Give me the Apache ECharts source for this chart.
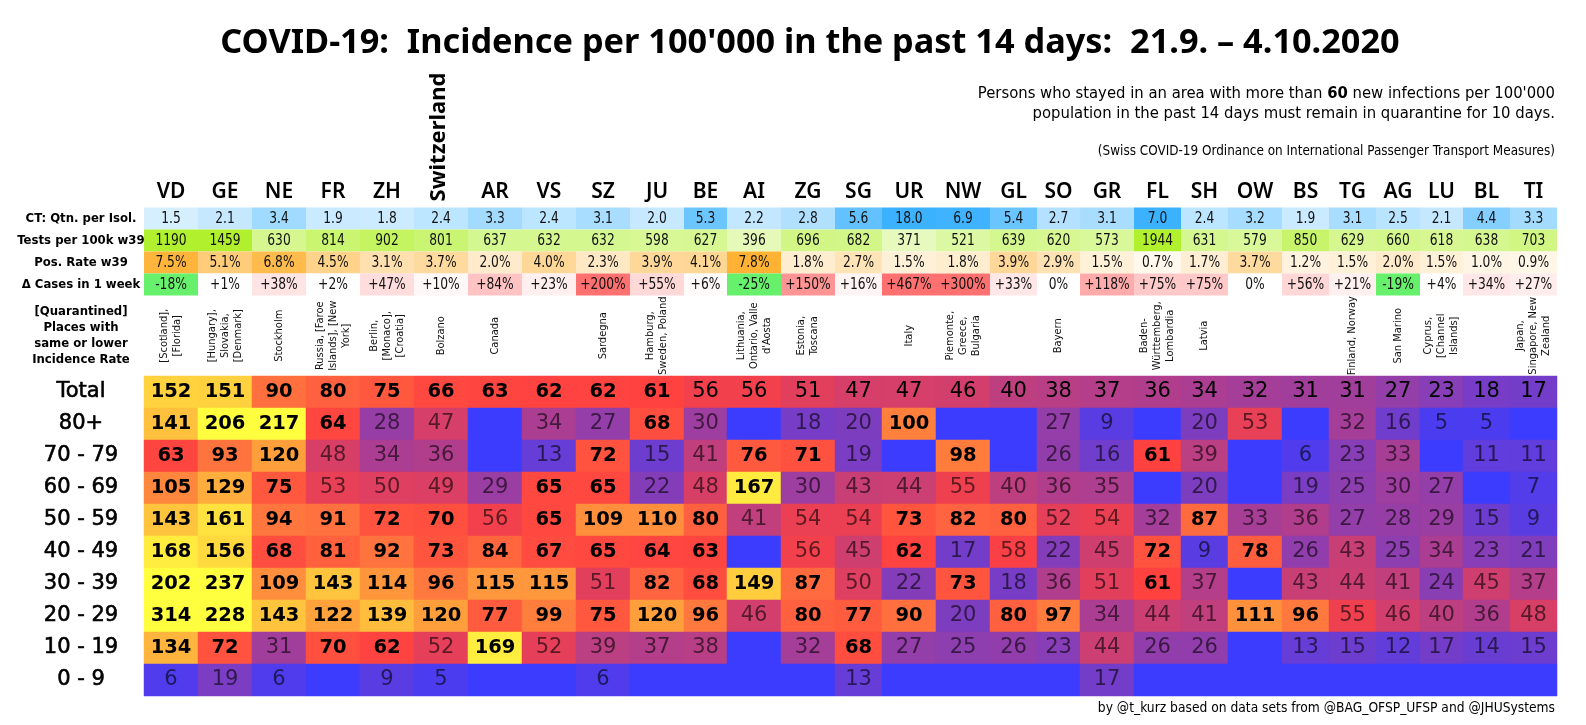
<!DOCTYPE html>
<html>
<head>
<meta charset="utf-8">
<title>COVID-19 Incidence</title>
<script src="https://cdn.jsdelivr.net/npm/echarts@6/dist/echarts.min.js"></script>
<style>
  html, body { margin: 0; background: #fff; }
  #container { width: 1586px; height: 725px; }
</style>
</head>
<body>
<div id="container"></div>
<script>
var cantons = ['VD','GE','NE','FR','ZH','Switzerland','AR','VS','SZ','JU','BE','AI','ZG','SG','UR','NW','GL','SO','GR','FL','SH','OW','BS','TG','AG','LU','BL','TI'];

var ctRatio = [1.5,2.1,3.4,1.9,1.8,2.4,3.3,2.4,3.1,2.0,5.3,2.2,2.8,5.6,18.0,6.9,5.4,2.7,3.1,7.0,2.4,3.2,1.9,3.1,2.5,2.1,4.4,3.3];
var tests = [1190,1459,630,814,902,801,637,632,632,598,627,396,696,682,371,521,639,620,573,1944,631,579,850,629,660,618,638,703];
var posRate = [7.5,5.1,6.8,4.5,3.1,3.7,2.0,4.0,2.3,3.9,4.1,7.8,1.8,2.7,1.5,1.8,3.9,2.9,1.5,0.7,1.7,3.7,1.2,1.5,2.0,1.5,1.0,0.9];
var deltaCases = [-18,1,38,2,47,10,84,23,200,55,6,-25,150,16,467,300,33,0,118,75,75,0,56,21,-19,4,34,27];

var places = [
    '[Scotland],\n[Florida]', '[Hungary],\nSlovakia,\n[Denmark]', 'Stockholm', 'Russia, [Faroe\nIslands], [New\nYork]',
    'Berlin,\n[Monaco],\n[Croatia]', 'Bolzano', 'Canada', '', 'Sardegna', 'Hamburg,\nSweden, Poland', '',
    'Lithuania,\nOntario, Valle\nd\'Aosta', 'Estonia,\nToscana', '', 'Italy', 'Piemonte,\nGreece,\nBulgaria', '',
    'Bayern', '', 'Baden-\nW\u00fcrttemberg,\nLombardia', 'Latvia', '', '', 'Finland, Norway', 'San Marino',
    'Cyprus,\n[Channel\nIslands]', '', 'Japan,\nSingapore, New\nZealand'
];

var ageLabels = ['Total','80+','70 - 79','60 - 69','50 - 59','40 - 49','30 - 39','20 - 29','10 - 19','0 - 9'];
var total = [152,151,90,80,75,66,63,62,62,61,56,56,51,47,47,46,40,38,37,36,34,32,31,31,27,23,18,17];
var age80 = [141,206,217,64,28,47,null,34,27,68,30,null,18,20,100,null,null,27,9,null,20,53,null,32,16,5,5,null];
var age70 = [63,93,120,48,34,36,null,13,72,15,41,76,71,19,null,98,null,26,16,61,39,null,6,23,33,null,11,11];
var age60 = [105,129,75,53,50,49,29,65,65,22,48,167,30,43,44,55,40,36,35,null,20,null,19,25,30,27,null,7];
var age50 = [143,161,94,91,72,70,56,65,109,110,80,41,54,54,73,82,80,52,54,32,87,33,36,27,28,29,15,9];
var age40 = [168,156,68,81,92,73,84,67,65,64,63,null,56,45,62,17,58,22,45,72,9,78,26,43,25,34,23,21];
var age30 = [202,237,109,143,114,96,115,115,51,82,68,149,87,50,22,73,18,36,51,61,37,null,43,44,41,24,45,37];
var age20 = [314,228,143,122,139,120,77,99,75,120,96,46,80,77,90,20,80,97,34,44,41,111,96,55,46,40,36,48];
var age10 = [134,72,31,70,62,52,169,52,39,37,38,null,32,68,27,25,26,23,44,26,26,null,13,15,12,17,14,15];
var age0 = [6,19,6,null,9,5,null,null,6,null,null,null,null,13,null,null,null,null,17,null,null,null,null,null,null,null,null,null];
var ageRows = [total,age80,age70,age60,age50,age40,age30,age20,age10,age0];

var metricLabels = ['CT: Qtn. per Isol.','Tests per 100k w39','Pos. Rate w39','\u0394 Cases in 1 week'];

// column widths come from the spreadsheet autofit, the x axis just adds them up
var colWidths = [54,54,54,54,54,54,54,54,54,54,43,54,54,47,54,54,47,43,54,47,47,54,47,47,44,43,47,47];
var edges = [0];
colWidths.forEach(function (w) { edges.push(edges[edges.length - 1] + w); });

var narrow = '"DejaVu Sans Condensed", sans-serif';
var wide = '"DejaVu Sans", sans-serif';
var lerp = echarts.color.lerp;

function fade(to, t) {
    return lerp(Math.max(0, Math.min(1, t)), ['#ffffff', to]);
}
function heatColor(v) {
    if (isNaN(v)) return '#3c3cff';
    return lerp(Math.min(v, 180) / 180, ['#3c3cff', '#ff4040', '#ff9f3c', '#ffff40']);
}
var metricColors = [
    function (v) { return fade('#3cb2ff', v / 7); },
    function (v) { return fade('#b0f02c', v / 1200); },
    function (v) { return fade('#ffb02e', v / 8); },
    function (v) { return v < 0 ? '#66f06c' : fade('#ff7070', v / 200); }
];
var metricText = [
    function (v) { return v.toFixed(1); },
    function (v) { return String(v); },
    function (v) { return v.toFixed(1) + '%'; },
    function (v) { return (v > 0 ? '+' : '') + v + '%'; }
];

function cellBox(api) {
    var col = api.value(0), row = api.value(1);
    var a = api.coord([edges[col], row]);
    var b = api.coord([edges[col + 1], row]);
    var h = api.size([0, 1])[1];
    return { x: a[0], y: a[1] - h / 2, width: b[0] - a[0], height: h };
}

function renderMetric(params, api) {
    var box = cellBox(api), row = api.value(1), v = api.value(2);
    return {
        type: 'group',
        children: [
            { type: 'rect', shape: box, style: { fill: metricColors[row](v) } },
            { type: 'text', x: box.x + box.width / 2, y: box.y + box.height / 2, scaleX: 0.88, style: {
                text: metricText[row](v), align: 'center', verticalAlign: 'middle',
                font: '15.5px ' + narrow, fill: '#111'
            } }
        ]
    };
}

function renderHeat(params, api) {
    var box = cellBox(api), v = api.value(2), row = api.value(1);
    var children = [{ type: 'rect', shape: box, style: { fill: heatColor(v), stroke: heatColor(v), lineWidth: 0.5 } }];
    if (!isNaN(v)) {
        var strong = v >= 60;
        // the Total row keeps regular weight below 60 but in full black
        var inTotal = row === 0;
        children.push({ type: 'text', style: {
            x: box.x + box.width / 2, y: box.y + box.height / 2,
            text: String(v), align: 'center', verticalAlign: 'middle',
            font: (strong ? 'bold 19.5px ' : '21px ') + wide,
            fill: strong || inTotal ? '#000' : 'rgba(0,0,0,0.6)'
        } });
    }
    return { type: 'group', children: children };
}

function renderHeader(params, api) {
    var col = api.value(0), name = cantons[col];
    var p = api.coord([(edges[col] + edges[col + 1]) / 2, 0]);
    if (name.length > 2) {
        return { type: 'text', x: p[0] - 2, y: p[1] - 54, rotation: Math.PI / 2, style: {
            text: name, align: 'center', verticalAlign: 'middle',
            font: 'bold 22px "Noto Sans", sans-serif', fill: '#000'
        } };
    }
    return { type: 'text', style: {
        x: p[0], y: p[1] + 1, text: name, align: 'center', verticalAlign: 'middle',
        font: '600 21px "Noto Sans", sans-serif', fill: '#000'
    } };
}

function renderPlace(params, api) {
    var col = api.value(0);
    var p = api.coord([(edges[col] + edges[col + 1]) / 2, 0]);
    return { type: 'text', x: p[0], y: p[1], rotation: Math.PI / 2, style: {
        text: places[col], align: 'center', verticalAlign: 'middle', lineHeight: 13,
        font: '11px ' + narrow, fill: '#111'
    } };
}

var metricData = [], heatData = [], colData = [];
cantons.forEach(function (c, i) {
    colData.push([i, 0]);
    [ctRatio, tests, posRate, deltaCases].forEach(function (arr, r) { metricData.push([i, r, arr[i]]); });
    ageRows.forEach(function (arr, r) { heatData.push([i, r, arr[i] === null ? '-' : arr[i]]); });
});

function xAxisAt(index) {
    return { gridIndex: index, type: 'value', min: 0, max: edges[edges.length - 1], show: false };
}
function yAxisAt(index, cats, font, size, weight, lineHeight, border) {
    return {
        gridIndex: index, type: 'category', inverse: true, data: cats,
        axisLine: { show: false }, axisTick: { show: false }, splitLine: { show: false },
        axisLabel: {
            show: cats[0] !== '', align: 'center', margin: 63, color: '#000', interval: 0,
            fontFamily: font, fontSize: size, fontWeight: weight, lineHeight: lineHeight,
            textBorderColor: '#000', textBorderWidth: border || 0
        }
    };
}

var left = 144, gridW = 1413;
var option = {
    animation: false,
    backgroundColor: '#fff',
    title: [
        { text: "COVID-19:  Incidence per 100'000 in the past 14 days:  21.9. \u2013 4.10.2020", left: 805, top: 21, textAlign: 'center',
          textStyle: { fontFamily: '"Noto Sans", sans-serif', fontSize: 34.3, fontWeight: 'bold', color: '#000' } },
        { text: "Persons who stayed in an area with more than {b|60} new infections per 100'000\npopulation in the past 14 days must remain in quarantine for 10 days.",
          left: 1550, top: 79, textAlign: 'right',
          textStyle: { fontFamily: narrow, fontSize: 16.5, lineHeight: 20, color: '#000', fontWeight: 'normal',
                       rich: { b: { fontFamily: narrow, fontSize: 16.5, fontWeight: 'bold', color: '#000' } } } },
        { text: '(Swiss COVID-19 Ordinance on International Passenger Transport Measures)', left: 1550, top: 140, textAlign: 'right',
          textStyle: { fontFamily: narrow, fontSize: 13.4, color: '#000', fontWeight: 'normal' } },
        { text: 'by @t_kurz based on data sets from @BAG_OFSP_UFSP and @JHUSystems', left: 1550, top: 696, textAlign: 'right',
          textStyle: { fontFamily: narrow, fontSize: 13.7, color: '#000', fontWeight: 'normal' } }
    ],
    tooltip: { show: false },
    grid: [
        { left: left, width: gridW, top: 175, height: 32 },
        { left: left, width: gridW, top: 207.5, height: 88 },
        { left: left, width: gridW, top: 295.5, height: 80.5 },
        { left: left, width: gridW, top: 376, height: 320 }
    ],
    xAxis: [xAxisAt(0), xAxisAt(1), xAxisAt(2), xAxisAt(3)],
    yAxis: [
        yAxisAt(0, [''], narrow, 14, 'bold'),
        yAxisAt(1, metricLabels, narrow, 13, 'bold'),
        yAxisAt(2, ['[Quarantined]\nPlaces with\nsame or lower\nIncidence Rate'], narrow, 13, 'bold', 16),
        yAxisAt(3, ageLabels, wide, 21, 'normal', null, 0.6)
    ],
    series: [
        { type: 'custom', name: 'header', xAxisIndex: 0, yAxisIndex: 0, renderItem: renderHeader, data: colData, silent: true },
        { type: 'custom', name: 'metrics', xAxisIndex: 1, yAxisIndex: 1, renderItem: renderMetric, data: metricData, silent: true },
        { type: 'custom', name: 'places', xAxisIndex: 2, yAxisIndex: 2, renderItem: renderPlace, data: colData, silent: true },
        { type: 'custom', name: 'incidence', xAxisIndex: 3, yAxisIndex: 3, renderItem: renderHeat, data: heatData, silent: true }
    ]
};

var myChart = echarts.init(document.getElementById('container'));
myChart.setOption(option);
</script>
</body>
</html>
